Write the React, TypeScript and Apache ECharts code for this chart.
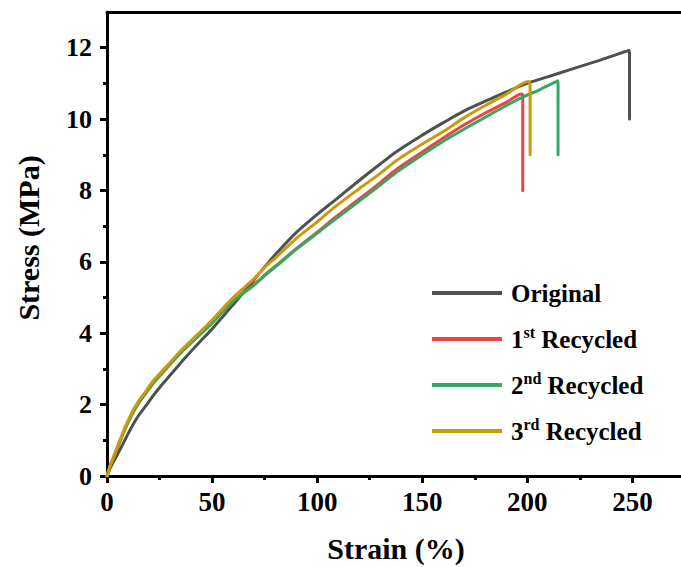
import React, { useEffect, useRef } from "react";
import * as echarts from "echarts";

const seriesNames = ["Original", "1st Recycled", "2nd Recycled", "3rd Recycled"];
const legendLabels = [
  "{b|Original}",
  "{b|1}{s|st}{b| Recycled}",
  "{b|2}{s|nd}{b| Recycled}",
  "{b|3}{s|rd}{b| Recycled}",
];
const colors = ["#505050", "#ee4343", "#35a865", "#cc9a06"];

const xTicks = [0, 50, 100, 150, 200, 250];
const xMinorTicks = [25, 75, 125, 175, 225];
const yTicks = [0, 2, 4, 6, 8, 10, 12];
const yMinorTicks = [1, 3, 5, 7, 9, 11];

const originalData: number[][] = [
  [0, 0], [1, 0.15], [2, 0.28], [4, 0.5], [6, 0.72], [8, 0.95], [10, 1.18], [12.4, 1.44],
  [15, 1.69], [18.8, 1.99], [22, 2.25], [26, 2.55], [30, 2.82], [37, 3.3], [44, 3.75],
  [50, 4.12], [60, 4.8], [70, 5.5], [76, 5.93], [80, 6.2], [90, 6.82], [100, 7.33],
  [107, 7.66], [110, 7.8], [120, 8.28], [130, 8.74], [138, 9.1], [150, 9.55], [160, 9.9],
  [170, 10.23], [180, 10.5], [190, 10.76], [200, 11.0], [210, 11.19], [220, 11.38],
  [235, 11.66], [248.5, 11.92], [248.6, 11.8], [248.6, 10.0],
];
const recycled1Data: number[][] = [
  [0, 0], [1, 0.19], [2, 0.36], [3.7, 0.6], [6, 0.95], [7.6, 1.18], [10, 1.5], [12.4, 1.78],
  [15, 2.04], [18.8, 2.35], [22, 2.6], [28, 3.0], [35, 3.45], [44, 3.96], [50, 4.3],
  [60, 4.9], [70, 5.37], [76, 5.68], [80, 5.87], [90, 6.37], [100, 6.83], [107.6, 7.2],
  [120, 7.76], [130, 8.22], [138, 8.6], [150, 9.08], [160, 9.47], [170, 9.84], [180, 10.17],
  [190, 10.47], [197.3, 10.7], [197.8, 10.6], [197.8, 8.0],
];
const recycled2Data: number[][] = [
  [0, 0], [1, 0.19], [2, 0.36], [3.7, 0.6], [6, 0.95], [7.6, 1.18], [10, 1.5], [12.4, 1.78],
  [15, 2.04], [18.8, 2.35], [22, 2.6], [28, 3.0], [35, 3.45], [44, 3.95], [50, 4.28],
  [60, 4.9], [70, 5.35], [76, 5.66], [80, 5.85], [90, 6.35], [100, 6.8], [107.6, 7.15],
  [120, 7.7], [130, 8.15], [138, 8.52], [150, 9.0], [160, 9.38], [170, 9.72], [180, 10.05],
  [190, 10.38], [198, 10.62], [205, 10.8], [214.5, 11.07], [214.6, 10.95], [214.6, 9.0],
];
const recycled3Data: number[][] = [
  [0, 0], [1, 0.2], [2, 0.37], [3.7, 0.63], [6, 0.98], [7.6, 1.22], [10, 1.55], [12.4, 1.84],
  [15, 2.1], [18.8, 2.4], [22, 2.67], [28, 3.05], [35, 3.5], [44, 4.02], [50, 4.37],
  [60, 5.0], [70, 5.53], [76, 5.9], [80, 6.1], [90, 6.65], [100, 7.12], [107.6, 7.5],
  [120, 8.05], [130, 8.48], [138, 8.85], [150, 9.3], [160, 9.65], [170, 10.04], [180, 10.38],
  [190, 10.7], [200.5, 11.05], [201.3, 10.9], [201.3, 9.0],
];
const allData = [originalData, recycled1Data, recycled2Data, recycled3Data];

const FONT = "Liberation Serif";

export default function App() {
  const ref = useRef<HTMLDivElement>(null);
  useEffect(() => {
    if (!ref.current) return;
    const chart = echarts.init(ref.current, undefined, { renderer: "svg" });
    const grid = { left: 107, top: 12, right: -4, bottom: 91, outerBoundsMode: "none" } as any;
    const baseAxis = { type: "value", min: 0, splitLine: { show: false } };
    chart.setOption({
      animation: false,
      backgroundColor: "#ffffff",
      grid,
      legend: {
        orient: "vertical",
        left: 427,
        top: 273,
        itemWidth: 70,
        itemHeight: 4,
        itemGap: 16,
        icon: "rect",
        data: seriesNames,
        formatter: (name: string) => legendLabels[seriesNames.indexOf(name)],
        textStyle: {
          fontFamily: FONT,
          fontWeight: "bold",
          fontSize: 25,
          color: "#000",
          lineHeight: 30,
          padding: [0, 0, 0, 4],
          rich: {
            b: { fontFamily: FONT, fontWeight: "bold", fontSize: 25, lineHeight: 30, color: "#000" },
            s: { fontFamily: FONT, fontWeight: "bold", fontSize: 16, lineHeight: 30, color: "#000", verticalAlign: "top", padding: [0, 0, 8, 0] },
          },
        },
      },
      xAxis: [
        {
          ...baseAxis,
          max: 275,
          position: "bottom",
          axisLine: { show: true, onZero: false, lineStyle: { color: "#000", width: 3 } },
          axisTick: { show: true, inside: false, length: 7, lineStyle: { color: "#000", width: 3 }, customValues: xTicks },
          axisLabel: { customValues: xTicks, margin: 12, fontFamily: FONT, fontWeight: "bold", fontSize: 27, color: "#000" },
        },
        {
          ...baseAxis,
          max: 275,
          position: "bottom",
          axisLine: { show: false },
          axisTick: { show: true, inside: false, length: 4, lineStyle: { color: "#000", width: 3 }, customValues: xMinorTicks },
          axisLabel: { show: false },
        },
        {
          ...baseAxis,
          max: 275,
          position: "top",
          axisLine: { show: true, onZero: false, lineStyle: { color: "#000", width: 3 } },
          axisTick: { show: false },
          axisLabel: { show: false },
        },
      ],
      yAxis: [
        {
          ...baseAxis,
          max: 13,
          position: "left",
          axisLine: { show: true, onZero: false, lineStyle: { color: "#000", width: 3 } },
          axisTick: { show: true, inside: false, length: 7, lineStyle: { color: "#000", width: 3 }, customValues: yTicks },
          axisLabel: { customValues: yTicks, margin: 15, fontFamily: FONT, fontWeight: "bold", fontSize: 26, color: "#000" },
        },
        {
          ...baseAxis,
          max: 13,
          position: "left",
          axisLine: { show: false },
          axisTick: { show: true, inside: false, length: 4, lineStyle: { color: "#000", width: 3 }, customValues: yMinorTicks },
          axisLabel: { show: false },
        },
      ],
      graphic: [
        {
          type: "text",
          x: 396,
          y: 548,
          style: { text: "Strain (%)", fontFamily: FONT, fontWeight: "bold", fontSize: 30, fill: "#000", align: "center", verticalAlign: "middle" },
        },
        {
          type: "text",
          x: 28,
          y: 238,
          rotation: Math.PI / 2,
          style: { text: "Stress (MPa)", fontFamily: FONT, fontWeight: "bold", fontSize: 30, fill: "#000", align: "center", verticalAlign: "middle" },
        },
      ],
      series: seriesNames.map((name, i) => ({
        name,
        type: "line",
        xAxisIndex: 0,
        yAxisIndex: 0,
        data: allData[i],
        showSymbol: false,
        symbol: "none",
        smooth: 0.3,
        color: colors[i],
        lineStyle: { color: colors[i], width: 3, join: "round", cap: "round" },
        z: 2 + i,
      })),
    });
    return () => chart.dispose();
  }, []);
  return <div ref={ref} style={{ width: 681, height: 567, position: "absolute", left: 0, top: 0 }} />;
}
